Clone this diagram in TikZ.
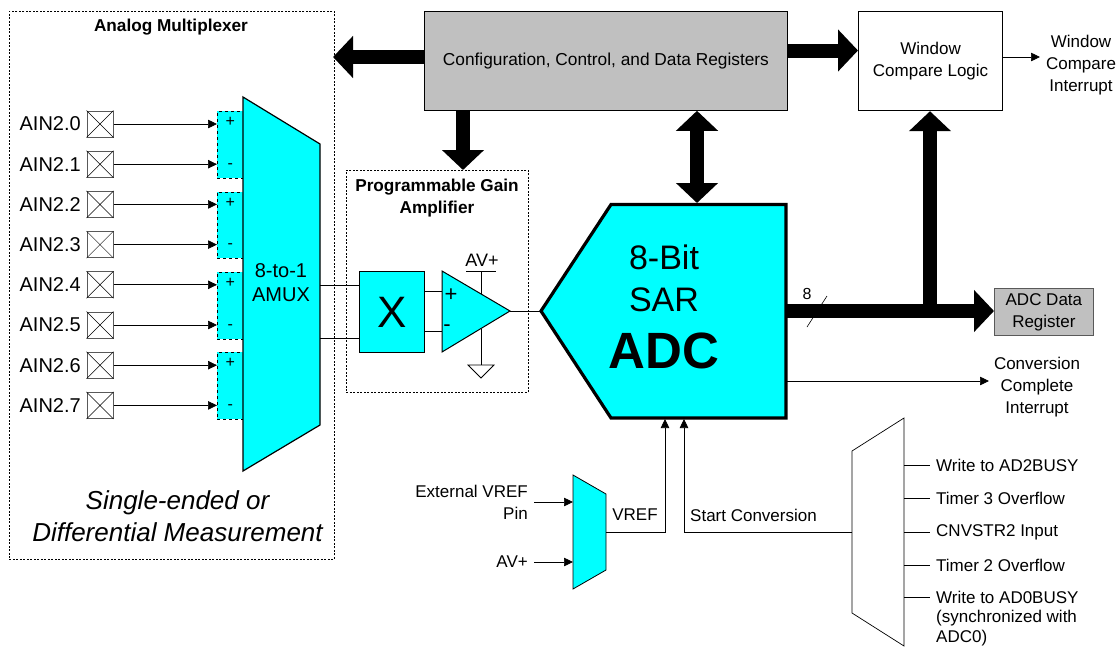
\documentclass[tikz,border=0pt]{standalone}
\usepackage{fontspec}
\setmainfont{Liberation Sans}
\usetikzlibrary{positioning, arrows.meta, calc}
\definecolor{adccyan}{RGB}{0,255,255}
\definecolor{reggray}{RGB}{192,192,192}
\tikzset{
  sig/.style={-{Triangle[length=9pt,width=8.5pt]}, line width=0.7pt},
  wire/.style={line width=1pt},
  bus/.style={-{Triangle[length=20pt,width=41pt]}, line width=14pt},
  dbus/.style={{Triangle[length=20pt,width=41pt]}-{Triangle[length=20pt,width=41pt]}, line width=14pt},
  lbl/.style={font=\fontsize{17}{22}\selectfont, align=center, inner sep=0pt},
  grp/.style={draw, dash pattern=on 2pt off 1.5pt, line width=0.6pt},
  reg/.style={draw, line width=0.8pt, inner sep=0pt, lbl}
}
\begin{document}
\begin{tikzpicture}[x=1pt, y=-1pt]
  \useasboundingbox (0,0) rectangle (1117,646);

  % Group boxes
  \node[grp, minimum width=325pt, minimum height=548pt, anchor=north west, inner sep=0pt] (MuxGroup) at (9,11) {};
  \node[grp, minimum width=182pt, minimum height=222pt, anchor=north west, inner sep=0pt] (PgaGroup) at (346,170) {};
  \node[lbl, font=\fontsize{17.2}{22}\selectfont\bfseries] (MuxTitle) at (171,27) {Analog Multiplexer};
  \node[lbl, font=\fontsize{17.2}{22}\selectfont\bfseries] (PgaTitle) at (437,198) {Programmable Gain\\Amplifier};

  % Pins
  \foreach \i in {0,...,7} {
    \pgfmathsetmacro{\py}{124+40.2*\i}
    \node[draw=black!65, line width=1pt, minimum size=26pt, inner sep=0pt] (Pin\i) at (100,\py) {};
    \draw[line width=0.5pt] (Pin\i.north west) -- (Pin\i.south east) (Pin\i.north east) -- (Pin\i.south west);
    \node[lbl, font=\fontsize{20}{22}\selectfont, anchor=east] (Ain\i) at (81,\py) {AIN2.\i};
    \coordinate (In\i) at (217,\py);
    \draw[sig] (Pin\i) -- (In\i);
  }
  % Differential pairs
  \foreach \i/\yy in {0/111,1/191.5,2/272,3/352} {
    \node[draw, dashed, fill=adccyan, line width=0.8pt, minimum width=26pt, minimum height=66.5pt, anchor=north west, inner sep=0pt] (Pair\i) at (217,\yy) {};
    \node[font=\fontsize{16}{18}\selectfont, inner sep=0pt] (Plus\i) at ($(Pair\i.north)+(0,11)$) {+};
    \node[font=\fontsize{16}{18}\selectfont, inner sep=0pt] (Minus\i) at ($(Pair\i.north)+(0,55)$) {-};
  }
  % AMUX
  \coordinate (MuxA) at (243,97);
  \coordinate (MuxB) at (320,144);
  \coordinate (MuxC) at (320,425);
  \coordinate (MuxD) at (243,471);
  \draw[fill=adccyan, line width=1.2pt, line join=miter] (MuxA) -- (MuxB) -- (MuxC) -- (MuxD) -- cycle;
  \node[lbl, font=\fontsize{20}{24}\selectfont] (MuxText) at (281,283) {8-to-1\\AMUX};
  \node[lbl, font=\fontsize{26}{32}\selectfont\itshape] (ModeText) at (177.5,516) {Single-ended or\\Differential Measurement};

  % Gain block
  \node[draw, fill=adccyan, line width=1pt, minimum width=65pt, minimum height=81pt, anchor=north west, inner sep=0pt, font=\fontsize{44}{48}\selectfont] (Gain) at (359,271) {X};
  \coordinate (MuxOutA) at (320,285);
  \coordinate (MuxOutB) at (320,338);
  \draw[wire] (MuxOutA) -- (Gain.west |- MuxOutA);
  \draw[wire] (MuxOutB) -- (Gain.west |- MuxOutB);

  % Amplifier
  \coordinate (AmpA) at (442,271);
  \coordinate (AmpB) at (442,352);
  \coordinate (AmpOut) at (510,311);
  \coordinate (AmpSup) at (481,271);
  \coordinate (AmpGnd) at (481,365);
  \draw[wire] (AmpSup) -- +(0,24);
  \draw[wire] ($(AmpSup)+(-15,0)$) -- ($(AmpSup)+(15,0)$);
  \draw[wire] (481,329) -- (AmpGnd);
  \draw[fill=white, line width=0.8pt] ($(AmpGnd)+(-13,0)$) -- ($(AmpGnd)+(13,0)$) -- ($(AmpGnd)+(0,13)$) -- cycle;
  \draw[wire] (424,291) -- (442,291);
  \draw[wire] (424,331) -- (442,331);
  \draw[fill=adccyan, line width=1pt] (AmpA) -- (AmpB) -- (AmpOut) -- cycle;
  \node[font=\fontsize{22}{24}\selectfont, inner sep=0pt] (AmpPlus) at (451,295) {+};
  \node[font=\fontsize{22}{24}\selectfont, inner sep=0pt] (AmpMinus) at (447,328) {-};
  \node[lbl, font=\fontsize{18}{22}\selectfont] (AmpSupText) at (482,260) {AV+};

  % ADC
  \coordinate (AdcTip) at (541,311);
  \coordinate (AdcTL) at (611,204.5);
  \coordinate (AdcTR) at (786,204.5);
  \coordinate (AdcBR) at (786,418);
  \coordinate (AdcBL) at (611,418);
  \draw[wire] (AmpOut) -- (AdcTip);
  \draw[fill=adccyan, line width=3.2pt] (AdcTip) -- (AdcTL) -- (AdcTR) -- (AdcBR) -- (AdcBL) -- cycle;
  \node[lbl, font=\fontsize{34}{38}\selectfont] (AdcBits) at (664,257) {8-Bit};
  \node[lbl, font=\fontsize{34}{38}\selectfont] (AdcSar) at (664,300) {SAR};
  \node[lbl, font=\fontsize{51}{56}\selectfont\bfseries] (AdcText) at (664,351) {ADC};

  % Registers
  \node[reg, fill=reggray, minimum width=363pt, minimum height=99pt, anchor=north west, font=\fontsize{17.3}{22}\selectfont] (Config) at (424,11) {Configuration, Control, and Data Registers};
  \node[reg, fill=white, line width=1.2pt, minimum width=144pt, minimum height=99pt, anchor=north west] (Window) at (858,11) {Window\\Compare Logic};
  \node[reg, fill=reggray, minimum width=99pt, minimum height=47pt, anchor=north west, draw=black!65] (DataReg) at (994,288) {ADC Data\\Register};

  % Buses
  \coordinate (BusLeft) at (333,57);
  \coordinate (BusRight) at (858,50.5);
  \coordinate (PgaIn) at (463,170);
  \coordinate (AdcCfg) at (697,203);
  \coordinate (BusSplit) at (930,311);
  \draw[bus] (Config.west |- BusLeft) -- (BusLeft);
  \draw[bus] (Config.east |- BusRight) -- (BusRight);
  \draw[bus] (Config.south -| PgaIn) -- (PgaIn);
  \draw[dbus] (Config.south -| AdcCfg) -- (AdcCfg);
  \draw[line width=0.6pt] (807,327) -- (827,296);
  \draw[bus] (AdcTR |- AdcTip) -- (DataReg.west |- AdcTip);
  \draw[bus] (BusSplit) -- (Window.south -| BusSplit);
  \node[lbl, font=\fontsize{16}{18}\selectfont] (BusWidth) at (807,294) {8};

  % Interrupts
  \coordinate (WinOut) at (1040,57);
  \draw[sig] (Window.east |- WinOut) -- (WinOut);
  \node[lbl] (WinIrq) at (1081,65) {Window\\Compare\\Interrupt};
  \coordinate (DoneOut) at (989,381);
  \draw[sig] (AdcTR |- DoneOut) -- (DoneOut);
  \node[lbl] (DoneIrq) at (1037,387) {Conversion\\Complete\\Interrupt};

  % VREF mux
  \coordinate (RefA) at (573,475);
  \coordinate (RefB) at (606,494);
  \coordinate (RefC) at (606,570);
  \coordinate (RefD) at (573,589);
  \coordinate (RefOut) at (606,532);
  \coordinate (RefIn) at (665,419);
  \draw[fill=adccyan, line width=0.8pt] (RefA) -- (RefB) -- (RefC) -- (RefD) -- cycle;
  \node[lbl, align=right, anchor=east] (ExtText) at (528,502) {External VREF\\Pin};
  \node[lbl, anchor=east] (AvText) at (528,562) {AV+};
  \coordinate (ExtIn) at (534,502);
  \coordinate (AvIn) at (534,562);
  \draw[sig] (ExtIn) -- (RefA |- ExtIn);
  \draw[sig] (AvIn) -- (RefA |- AvIn);
  \draw[sig] (RefOut) -| (RefIn);
  \node[lbl] (RefText) at (635,515) {VREF};

  % Start mux
  \coordinate (StartA) at (852,451);
  \coordinate (StartB) at (904,418);
  \coordinate (StartC) at (904,646);
  \coordinate (StartD) at (852,613);
  \coordinate (StartOut) at (852,532);
  \coordinate (StartIn) at (684,419);
  \draw[line width=0.7pt] (StartA) -- (StartB) -- (StartC) -- (StartD) -- cycle;
  \draw[sig] (StartOut) -| (StartIn);
  \node[lbl] (StartText) at (753.5,515) {Start Conversion};
  \foreach \s/\yy/\t in {a/465/Write to AD2BUSY, b/498/Timer 3 Overflow, c/532/CNVSTR2 Input, d/565/Timer 2 Overflow, e/597/Write to AD0BUSY} {
    \coordinate (Src\s) at (904,\yy);
    \node[lbl, anchor=west] (SrcText\s) at (936,\yy) {\t};
    \draw[line width=0.7pt] (Src\s) -- +(26,0);
  }
  \node[lbl, align=left, anchor=north west, font=\fontsize{17}{20}\selectfont] (SrcNote) at (936,609.5) {(synchronized with\\ADC0)};
\end{tikzpicture}
\end{document}
